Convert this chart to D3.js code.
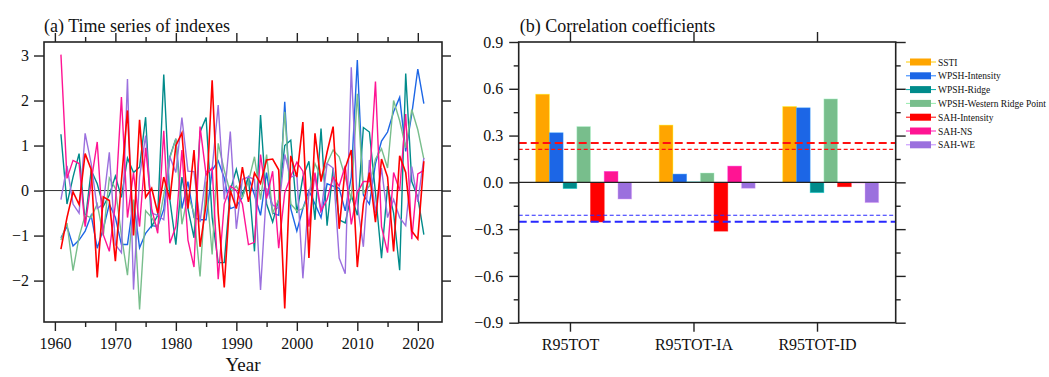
<!DOCTYPE html>
<html>
<head>
<meta charset="utf-8">
<script src="https://cdn.jsdelivr.net/npm/d3@7"></script>
<style>
  body { margin: 0; background: #fff; }
</style>
</head>
<body>
<svg id="chart" width="1049" height="377"></svg>
<script>
// ---- data: panel (a) time series, 1961-2021 ----
const years = d3.range(1961, 2022);

const wpshIntensitySeries = [
  -1.05, -0.8, -1.23, -1.1, -0.9, -0.55, -1.28, -0.85, -0.3, -0.6,
  -1.2, -1.2, -0.22, -1.27, -0.95, -0.78, -0.8, -0.42, 0.75, 1.15,
  -0.4, 0.2, -0.6, -0.65, -0.65, 0.45, 0.66, 0.28, -0.4, -0.35,
  -0.15, 0.3, -0.1, -0.55, 0.4, -0.5, -0.55, 1.97, -0.4, -0.9,
  -0.4, 0.0, -0.3, -0.6, 0.15, 0.1, 0.05, -0.45, 0.3, 2.9,
  -0.1, -0.3, 0.6, 1.1, 1.3, 1.75, 2.07, 0.87, 1.7, 2.7,
  1.93
];
const wpshRidgeSeries = [
  1.25, -0.3, 0.3, 0.82, -0.7, 0.45, 0.15, -0.35, -0.1, 0.32,
  -0.15, 0.72, 0.4, 0.52, 1.63, -0.8, -0.55, 2.58, -0.2, -1.2,
  0.3, -0.4, -1.05, 1.3, 1.62, -0.6, -1.6, -1.6, 0.0, 0.47,
  -0.1, 0.3, -1.35, 1.68, -0.3, -0.7, -0.2, 1.0, 1.12, -0.5,
  0.3, 0.65, -0.65, 1.38, -0.78, 0.5, -0.65, -0.72, -0.1, -0.55,
  1.4, 1.3, -0.05, -1.5, 0.1, -0.5, -1.77, 2.6, 0.2, -0.15,
  -0.98
];
const wpshWrpSeries = [
  -1.1, -0.72, -1.78, -1.03, -0.55, -0.6, -0.3, -1.0, 0.28, 0.05,
  -1.0, -1.88, -0.2, -2.64, -0.45, -0.6, -0.83, -0.1, 0.72, 1.15,
  -0.75, -0.1, -0.5, -1.91, 0.2, -1.42, 1.05, 0.45, -0.05, 0.1,
  -0.15, 0.2, 0.75, -0.2, 0.8, -0.5, -0.2, 1.75, -0.3, -0.45,
  -0.4, -0.1, 0.6, 0.3, 0.6, 0.9, 0.75, 0.3, -0.2, 2.15,
  -0.05, 0.1, 0.7, 0.93, 0.5, 2.0, 1.55, 0.95, 1.8, 1.35,
  0.7
];
const sahIntensitySeries = [
  -1.3, -0.6, -0.03, -0.31, 0.82, 0.47, -1.93, -0.14, -0.22, -1.57,
  0.22, 1.78, -1.0, 1.57, -0.15, 0.05, -0.5, 0.3, -0.2, 1.0,
  1.28, -0.4, 0.9, -1.25, -0.3, 2.45, -0.5, -2.15, 0.0, -0.4,
  0.52, -0.25, 0.39, 0.16, 0.68, 0.7, 0.46, -2.62, 0.77, 0.3,
  1.52, -1.5, 1.27, 0.2, 0.85, 1.42, -0.85, 0.5, 0.9, -1.7,
  -0.3, 0.4, -0.7, 0.7, 0.3, -1.35, 0.77, 0.4, -0.9, -1.08,
  0.65
];
const sahNSSeries = [
  3.02, 0.27, 0.67, 0.6, -0.8, 0.2, 1.08, -0.98, -1.35, -0.3,
  2.08, -0.6, 0.4, -0.8, 0.95, -0.4, -0.95, 1.33, -1.17, -0.8,
  0.9, -1.1, -1.7, 1.42, 0.35, 0.5, -1.97, -0.3, 0.1, 0.0,
  -0.3, -1.2, -1.15, 0.8, -0.18, 0.43, -1.28, -0.05, 0.32, 0.63,
  0.43, -0.8, 0.4, -0.45, -0.2, 0.3, 0.1, 0.55, -0.75, -0.05,
  0.2, 0.2, 2.42, -0.8, -1.38, 0.4, 0.0, 1.7, -1.08, 0.37,
  0.45
];
const sahWESeries = [
  -0.2, 0.55, -0.3, -0.5, 1.27, 0.6, -0.4, -0.3, 0.85, -1.2,
  -1.38, 2.48, -2.2, 0.3, 1.22, -0.5, -0.55, -0.65, 0.75, 0.4,
  1.62, 0.43, 0.42, -0.7, 0.42, 0.48, 1.9, -0.2, 1.31, -0.85,
  0.25, 0.3, 0.25, -2.21, 0.05, -0.32, -0.4, 0.8, 0.3, 0.35,
  -1.95, -0.05, 0.3, -0.5, 0.6, 0.5, -1.5, -1.85, 2.74, -0.3,
  -1.25, 0.68, -0.5, 0.5, -0.6, -0.2, -0.6, -0.78, 0.53, -0.25,
  0.72
];

// ---- data: panel (b) correlation coefficients ----
const categories = ['R95TOT', 'R95TOT-IA', 'R95TOT-ID'];
const seriesNames = ['SSTI', 'WPSH-Intensity', 'WPSH-Ridge', 'WPSH-Western Ridge Point',
                     'SAH-Intensity', 'SAH-NS', 'SAH-WE'];
const sstiCorr          = [0.565, 0.367, 0.486];
const wpshIntensityCorr = [0.318, 0.053, 0.478];
const wpshRidgeCorr     = [-0.04, 0.003, -0.066];
const wpshWrpCorr       = [0.358, 0.06, 0.535];
const sahIntensityCorr  = [-0.254, -0.313, -0.028];
const sahNSCorr         = [0.07, 0.104, -0.004];
const sahWECorr         = [-0.107, -0.038, -0.13];
const thresholds = [0.252, 0.211];   // 95% / 90% significance

const yTicksA = [-2, -1, 0, 1, 2, 3];
const xTicksA = [1960, 1970, 1980, 1990, 2000, 2010, 2020];
const xMinorA = d3.range(1965, 2024, 10);
const yTicksB = [-0.9, -0.6, -0.3, 0, 0.3, 0.6, 0.9];
const yMinorB = [-0.75, -0.45, -0.15, 0.15, 0.45, 0.75];

const colors = ['#FFA500', '#1C66E6', '#008B8B', '#78BE8C', '#FF0000', '#FF1493', '#9B70DE'];

const serif = '"Liberation Serif", "Times New Roman", serif';
const svg = d3.select('#chart');
const frameColor = '#222';

function styleAxis(g, size) {
  g.attr('font-family', null).attr('font-size', null);
  g.select('.domain').remove();
  g.selectAll('line').attr('stroke', frameColor).attr('stroke-width', 1.4);
  g.selectAll('text')
    .attr('fill', '#111')
    .style('font-family', serif)
    .style('font-size', size + 'px');
}

function addText(g, x, y, size, str, anchor) {
  return g.append('text')
    .attr('x', x).attr('y', y)
    .attr('text-anchor', anchor || 'start')
    .attr('fill', '#111')
    .style('font-family', serif)
    .style('font-size', size + 'px')
    .text(str);
}

// ================= panel (a) =================
const A = { left: 44, right: 442, top: 42, bottom: 322 };
const xA = d3.scaleLinear().domain([1958.2, 2024]).range([A.left, A.right]);
const yA = d3.scaleLinear().domain([-2.92, 3.3]).range([A.bottom, A.top]);

const gA = svg.append('g');

gA.append('line')
  .attr('x1', A.left).attr('x2', A.right)
  .attr('y1', yA(0)).attr('y2', yA(0))
  .attr('stroke', '#333').attr('stroke-width', 1);

const seriesA = [
  { name: 'WPSH-Intensity', values: wpshIntensitySeries, color: colors[1] },
  { name: 'WPSH-Ridge', values: wpshRidgeSeries, color: colors[2] },
  { name: 'WPSH-Western Ridge Point', values: wpshWrpSeries, color: colors[3] },
  { name: 'SAH-WE', values: sahWESeries, color: colors[6] },
  { name: 'SAH-NS', values: sahNSSeries, color: colors[5] },
  { name: 'SAH-Intensity', values: sahIntensitySeries, color: colors[4] }
];

const line = d3.line()
  .x((d, i) => xA(years[i]))
  .y(d => yA(d));

gA.selectAll('path.series')
  .data(seriesA)
  .enter()
  .append('path')
  .attr('class', 'series')
  .attr('fill', 'none')
  .attr('stroke', d => d.color)
  .attr('stroke-width', d => d.name === 'SAH-Intensity' ? 1.6 : 1.4)
  .attr('d', d => line(d.values));

gA.append('rect')
  .attr('x', A.left).attr('y', A.top)
  .attr('width', A.right - A.left).attr('height', A.bottom - A.top)
  .attr('fill', 'none').attr('stroke', frameColor).attr('stroke-width', 1.6);

// axes of (a)
gA.append('g').attr('transform', `translate(0,${A.bottom})`)
  .call(d3.axisBottom(xA).tickValues(xTicksA).tickSize(9).tickPadding(7).tickFormat(d3.format('d')))
  .call(g => styleAxis(g, 16));
gA.append('g').attr('transform', `translate(0,${A.bottom})`)
  .call(d3.axisBottom(xA).tickValues(xMinorA).tickSize(5).tickFormat(''))
  .call(g => styleAxis(g, 16));
gA.append('g').attr('transform', `translate(0,${A.top})`)
  .call(d3.axisTop(xA).tickValues(xTicksA).tickSize(9).tickFormat(''))
  .call(g => styleAxis(g, 16));
gA.append('g').attr('transform', `translate(0,${A.top})`)
  .call(d3.axisTop(xA).tickValues(xMinorA).tickSize(5).tickFormat(''))
  .call(g => styleAxis(g, 16));
gA.append('g').attr('transform', `translate(${A.left},0)`)
  .call(d3.axisLeft(yA).tickValues(yTicksA).tickSize(10).tickPadding(5).tickFormat(d3.format('d')))
  .call(g => styleAxis(g, 16));
gA.append('g').attr('transform', `translate(${A.right},0)`)
  .call(d3.axisRight(yA).tickValues(yTicksA).tickSize(9).tickFormat(''))
  .call(g => styleAxis(g, 16));

addText(gA, (A.left + A.right) / 2, 371, 19, 'Year', 'middle');
addText(gA, A.left, 31.5, 18, '(a) Time series of indexes');

// ================= panel (b) =================
const B = { left: 518.7, right: 895.7, top: 42, bottom: 322.7 };
const xB = d3.scaleLinear().domain([0.585, 3.637]).range([B.left, B.right]);
const yB = d3.scaleLinear().domain([-0.9, 0.9]).range([B.bottom, B.top]);
const barW = 0.111;

const corrValues = [sstiCorr, wpshIntensityCorr, wpshRidgeCorr, wpshWrpCorr,
                    sahIntensityCorr, sahNSCorr, sahWECorr];
const bars = [];
corrValues.forEach((vals, s) => {
  vals.forEach((v, c) => {
    bars.push({ series: s, cat: c, value: v });
  });
});

function c2x(d) {
  return (d.cat + 1) + (d.series - 2) * barW;
}

const gB = svg.append('g');

gB.selectAll('rect.bar')
  .data(bars)
  .enter()
  .append('rect')
  .attr('class', 'bar')
  .attr('x', d => xB(c2x(d) - barW / 2))
  .attr('width', d => xB(c2x(d) + barW / 2) - xB(c2x(d) - barW / 2))
  .attr('y', d => yB(Math.max(0, d.value)))
  .attr('height', d => Math.abs(yB(d.value) - yB(0)))
  .attr('fill', d => colors[d.series])
  .attr('stroke', d => d3.color(colors[d.series]).brighter(1.2))
  .attr('stroke-opacity', 0.5)
  .attr('stroke-width', 0.8);

gB.append('line')
  .attr('x1', B.left).attr('x2', B.right)
  .attr('y1', yB(0)).attr('y2', yB(0))
  .attr('stroke', '#222').attr('stroke-width', 1.2);

// significance lines
const sigLines = [
  { v: thresholds[0], color: '#FF1010', w: 2, dash: '8,4' },
  { v: thresholds[1], color: '#FF1010', w: 1.2, dash: '4,2.5' },
  { v: -thresholds[1], color: '#2828FF', w: 1.2, dash: '4,2.5' },
  { v: -thresholds[0], color: '#2828FF', w: 2, dash: '8,4' }
];
gB.selectAll('line.sig')
  .data(sigLines)
  .enter()
  .append('line')
  .attr('class', 'sig')
  .attr('x1', B.left).attr('x2', B.right)
  .attr('y1', d => yB(d.v)).attr('y2', d => yB(d.v))
  .attr('stroke', d => d.color)
  .attr('stroke-width', d => d.w)
  .attr('stroke-dasharray', d => d.dash);

gB.append('rect')
  .attr('x', B.left).attr('y', B.top)
  .attr('width', B.right - B.left).attr('height', B.bottom - B.top)
  .attr('fill', 'none').attr('stroke', frameColor).attr('stroke-width', 1.6);

const catTicks = categories.map((c, i) => i + 1);
gB.append('g').attr('transform', `translate(0,${B.bottom})`)
  .call(d3.axisBottom(xB).tickValues(catTicks).tickSize(9).tickPadding(7)
    .tickFormat(d => categories[d - 1]))
  .call(g => styleAxis(g, 16));
gB.append('g').attr('transform', `translate(0,${B.top})`)
  .call(d3.axisTop(xB).tickValues(catTicks).tickSize(10).tickFormat(''))
  .call(g => styleAxis(g, 16));
gB.append('g').attr('transform', `translate(${B.left},0)`)
  .call(d3.axisLeft(yB).tickValues(yTicksB).tickSize(9.5).tickPadding(6).tickFormat(d3.format('.1f')))
  .call(g => styleAxis(g, 16));
gB.append('g').attr('transform', `translate(${B.left},0)`)
  .call(d3.axisLeft(yB).tickValues(yMinorB).tickSize(5).tickFormat(''))
  .call(g => styleAxis(g, 16));
gB.append('g').attr('transform', `translate(${B.right},0)`)
  .call(d3.axisRight(yB).tickValues(yTicksB).tickSize(10).tickFormat(''))
  .call(g => styleAxis(g, 16));
gB.append('g').attr('transform', `translate(${B.right},0)`)
  .call(d3.axisRight(yB).tickValues(yMinorB).tickSize(5).tickFormat(''))
  .call(g => styleAxis(g, 16));

addText(gB, B.left + 1, 31.5, 18, '(b) Correlation coefficients');

// legend
const legend = gB.append('g').attr('transform', 'translate(906,62)');
const item = legend.selectAll('g.item')
  .data(seriesNames)
  .enter()
  .append('g')
  .attr('class', 'item')
  .attr('transform', (d, i) => `translate(0,${i * 13.8})`);
item.append('line')
  .attr('x1', 0).attr('x2', 30).attr('y1', 0).attr('y2', 0)
  .attr('stroke', (d, i) => d3.color(colors[i]).brighter(0.6))
  .attr('stroke-width', 1);
item.append('rect')
  .attr('x', 4).attr('y', -3.5).attr('width', 21).attr('height', 7)
  .attr('fill', (d, i) => colors[i]);
item.append('text')
  .attr('x', 32).attr('y', 3.5)
  .attr('fill', '#111')
  .style('font-family', serif)
  .style('font-size', '9.5px')
  .text(d => d);
</script>
</body>
</html>
